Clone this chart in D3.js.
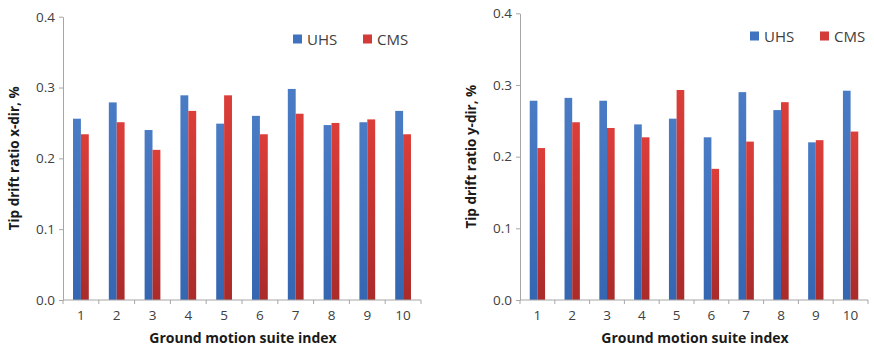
<!DOCTYPE html>
<html>
<head>
<meta charset="utf-8">
<script src="https://cdn.jsdelivr.net/npm/d3@7"></script>
<style>
  body { margin: 0; background: #fff; }
  svg { display: block; }
  text { font-family: "Open Sans", "Liberation Sans", sans-serif; }
</style>
</head>
<body>
<svg id="chart" width="874" height="348"></svg>
<script>
// Ground motion suite indices
const suites = ["1", "2", "3", "4", "5", "6", "7", "8", "9", "10"];
const seriesNames = ["UHS", "CMS"];
const yTicks = [0.0, 0.1, 0.2, 0.3, 0.4];

// Tip drift ratio, x-direction (%)
const xDirUHS = [0.256, 0.279, 0.240, 0.289, 0.249, 0.260, 0.298, 0.247, 0.251, 0.267];
const xDirCMS = [0.234, 0.251, 0.212, 0.267, 0.289, 0.234, 0.263, 0.250, 0.255, 0.234];

// Tip drift ratio, y-direction (%)
const yDirUHS = [0.278, 0.282, 0.278, 0.245, 0.253, 0.227, 0.290, 0.265, 0.220, 0.292];
const yDirCMS = [0.212, 0.248, 0.240, 0.227, 0.293, 0.183, 0.221, 0.276, 0.223, 0.235];

const svg = d3.select("#chart");

// Bar fills: gentle gradient, lighter at the top
const defs = svg.append("defs");
function grad(id, top, bottom) {
  const lg = defs.append("linearGradient").attr("id", id)
    .attr("x1", 0).attr("y1", 0).attr("x2", 0).attr("y2", 1);
  lg.append("stop").attr("offset", "0%").attr("stop-color", top);
  lg.append("stop").attr("offset", "100%").attr("stop-color", bottom);
}
grad("gUHS", "#4a7cc6", "#3566b2");
grad("gCMS", "#dc3e39", "#a92b2a");
const fills = { UHS: "url(#gUHS)", CMS: "url(#gCMS)" };
const legendFills = { UHS: "#3f72bf", CMS: "#d23b37" };

function drawPanel(cfg) {
  const { left, right, top, bottom, uhs, cms, yTitle, titleX, legendX, legendY } = cfg;
  const g = svg.append("g");

  const x = d3.scaleBand().domain(suites).range([left, right]).paddingInner(0).paddingOuter(0);
  const y = d3.scaleLinear().domain([0, 0.4]).range([bottom, top]);
  const inner = d3.scaleBand().domain(seriesNames)
    .range([0, x.bandwidth()]).paddingOuter(1.27).paddingInner(0);

  const rows = suites.map((s, i) => ({ suite: s, UHS: uhs[i], CMS: cms[i] }));

  // bars
  g.append("g").selectAll("g").data(rows).join("g")
    .attr("transform", d => `translate(${x(d.suite)},0)`)
    .selectAll("rect")
    .data(d => seriesNames.map(k => ({ key: k, value: d[k] })))
    .join("rect")
    .attr("x", d => inner(d.key))
    .attr("width", inner.bandwidth())
    .attr("y", d => y(d.value))
    .attr("height", d => y(0) - y(d.value))
    .attr("fill", d => fills[d.key]);

  // y axis
  const yAxis = g.append("g")
    .attr("transform", `translate(${left},0)`)
    .call(d3.axisLeft(y).tickValues(yTicks).tickFormat(d3.format(".1f")).tickSize(4).tickSizeOuter(0));
  yAxis.select(".domain").attr("stroke", "#a6a6a6");
  yAxis.selectAll(".tick line").attr("stroke", "#a6a6a6");
  yAxis.selectAll(".tick text").attr("fill", "#404040").style("font-size", "13.5px").attr("x", -8);

  // x axis: tick marks at category boundaries
  const xAxis = g.append("g").attr("transform", `translate(0,${bottom})`);
  xAxis.append("line").attr("x1", left).attr("x2", right).attr("stroke", "#a6a6a6");
  const boundaries = suites.map(s => x(s)).concat([right]);
  xAxis.selectAll("line.tk").data(boundaries).join("line").attr("class", "tk")
    .attr("x1", d => d).attr("x2", d => d).attr("y1", 0).attr("y2", 4).attr("stroke", "#a6a6a6");
  xAxis.selectAll("text").data(suites).join("text")
    .attr("x", d => x(d) + x.bandwidth() / 2)
    .attr("y", 20)
    .attr("text-anchor", "middle")
    .attr("fill", "#404040")
    .style("font-size", "13.5px")
    .text(d => d);

  // axis titles
  g.append("text")
    .attr("x", (left + right) / 2 + 1)
    .attr("y", 343)
    .attr("text-anchor", "middle")
    .attr("fill", "#1a1a1a")
    .style("font-size", "14px").style("font-weight", "bold")
    .text("Ground motion suite index");
  g.append("text")
    .attr("transform", `translate(${titleX},${(top + bottom) / 2}) rotate(-90)`)
    .attr("text-anchor", "middle")
    .attr("fill", "#1a1a1a")
    .style("font-size", "13.5px").style("font-weight", "bold")
    .text(yTitle);

  // legend
  const lg = g.append("g").attr("transform", `translate(${legendX},${legendY})`);
  seriesNames.forEach((k, i) => {
    const item = lg.append("g").attr("transform", `translate(${i * 70},0)`);
    item.append("rect").attr("x", 0).attr("y", -4.5).attr("width", 9).attr("height", 9).attr("fill", legendFills[k]);
    item.append("text").attr("x", 14).attr("y", 5.5).attr("fill", "#404040")
      .style("font-size", "15px").text(k);
  });
}

drawPanel({
  left: 63, right: 421, top: 16.7, bottom: 300,
  uhs: xDirUHS, cms: xDirCMS,
  yTitle: "Tip drift ratio x-dir, %", titleX: 19,
  legendX: 293, legendY: 39
});

drawPanel({
  left: 520, right: 868, top: 13.3, bottom: 300,
  uhs: yDirUHS, cms: yDirCMS,
  yTitle: "Tip drift ratio y-dir, %", titleX: 476,
  legendX: 750, legendY: 36
});
</script>
</body>
</html>
